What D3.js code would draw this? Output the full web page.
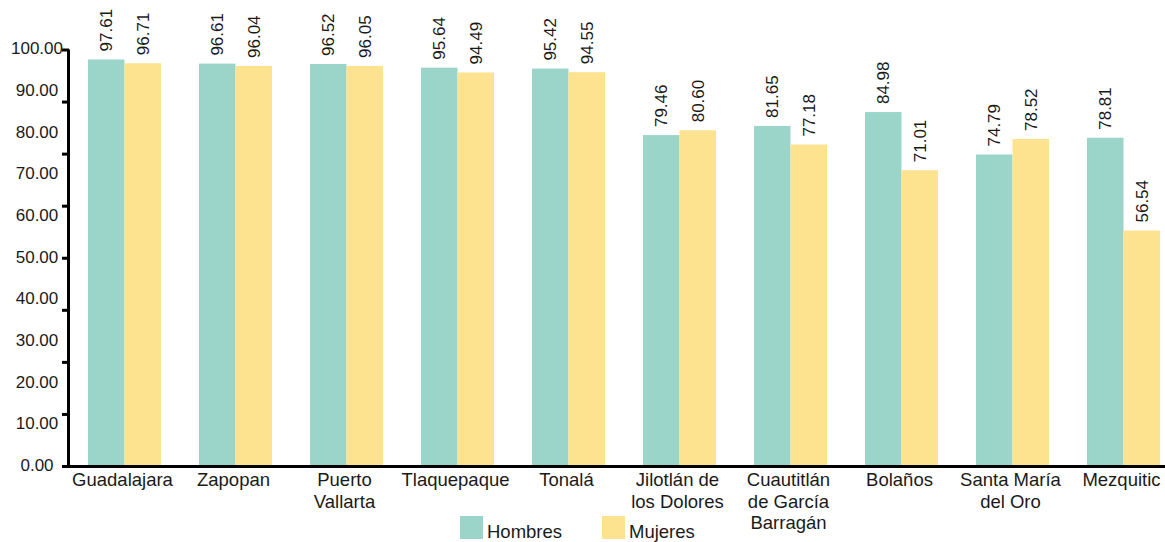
<!DOCTYPE html>
<html>
<head>
<meta charset="utf-8">
<script src="https://cdn.jsdelivr.net/npm/d3@7"></script>
<style>
  html, body { margin: 0; padding: 0; background: #fff; }
  svg { display: block; font-family: "Liberation Sans", Arial, sans-serif; }
</style>
</head>
<body>
<svg id="chart" width="1165" height="542" xmlns="http://www.w3.org/2000/svg"></svg>
<script>
const categories = ["Guadalajara", "Zapopan", "Puerto Vallarta", "Tlaquepaque", "Tonalá",
  "Jilotlán de los Dolores", "Cuautitlán de García Barragán", "Bolaños", "Santa María del Oro", "Mezquitic"];
const categoryLines = [["Guadalajara"], ["Zapopan"], ["Puerto", "Vallarta"], ["Tlaquepaque"], ["Tonalá"],
  ["Jilotlán de", "los Dolores"], ["Cuautitlán", "de García", "Barragán"], ["Bolaños"], ["Santa María", "del Oro"], ["Mezquitic"]];
const seriesNames = ["Hombres", "Mujeres"];
const hombres = [97.61, 96.61, 96.52, 95.64, 95.42, 79.46, 81.65, 84.98, 74.79, 78.81];
const mujeres = [96.71, 96.04, 96.05, 94.49, 94.55, 80.60, 77.18, 71.01, 78.52, 56.54];
const yTickLabels = [0, 10, 20, 30, 40, 50, 60, 70, 80, 90, 100];
const yTickMarks = [0, 12.5, 25, 37.5, 50, 62.5, 75, 87.5, 100];
const colors = ["#9bd5ca", "#fde290"];

const svg = d3.select("#chart");
const y = d3.scaleLinear().domain([0, 100]).range([466, 49.5]);
const x0 = d3.scaleBand().domain(categories).range([69, 1179]).paddingInner(0.3423).paddingOuter(0.1712);
const x1 = d3.scaleBand().domain(seriesNames).range([0, x0.bandwidth()]);
const color = d3.scaleOrdinal().domain(seriesNames).range(colors);

const flat = [];
categories.forEach((c, i) => {
  flat.push({ cat: c, key: "Hombres", v: hombres[i] });
  flat.push({ cat: c, key: "Mujeres", v: mujeres[i] });
});

// bars
svg.append("g").selectAll("rect").data(flat).join("rect")
  .attr("x", d => x0(d.cat) + x1(d.key))
  .attr("y", d => y(d.v))
  .attr("width", x1.bandwidth())
  .attr("height", d => y(0) - y(d.v))
  .attr("fill", d => color(d.key));

// value labels, rotated to read bottom-to-top
const cx = d => x0(d.cat) + x1(d.key) + x1.bandwidth() / 2 + 6;
const cy = d => y(d.v) - 8;
svg.append("g").attr("class", "values").selectAll("text").data(flat).join("text")
  .attr("x", cx)
  .attr("y", cy)
  .attr("transform", d => "rotate(-90 " + cx(d) + " " + cy(d) + ")")
  .attr("text-anchor", "start")
  .attr("font-size", "17px")
  .attr("fill", "#1a1a1a")
  .text(d => d.v.toFixed(2));

// y axis
const yAxis = d3.axisLeft(y).tickValues(yTickMarks).tickSize(7).tickFormat("");
const ya = svg.append("g").attr("transform", "translate(69,0)").call(yAxis);
ya.select(".domain").remove();
ya.selectAll(".tick line").attr("stroke", "#000").attr("stroke-width", 3);
svg.append("line").attr("x1", 68.5).attr("x2", 68.5).attr("y1", y(100)).attr("y2", y(0) + 1)
  .attr("stroke", "#000").attr("stroke-width", 3);
svg.append("line").attr("x1", 62).attr("x2", 1165).attr("y1", y(0) + 0.5).attr("y2", y(0) + 0.5)
  .attr("stroke", "#000").attr("stroke-width", 3);

svg.append("g").selectAll("text").data(yTickLabels).join("text")
  .attr("x", 37)
  .attr("y", d => y(d) - 1)
  .attr("dy", "0.35em")
  .attr("text-anchor", "middle")
  .attr("font-size", "17px")
  .attr("fill", "#1a1a1a")
  .text(d => d.toFixed(2));

// x labels
const xl = svg.append("g").selectAll("text").data(categories).join("text")
  .attr("x", d => x0(d) + x0.bandwidth() / 2 - 2)
  .attr("y", 486)
  .attr("text-anchor", "middle")
  .attr("font-size", "18.5px")
  .attr("fill", "#1a1a1a");
xl.selectAll("tspan").data((d, i) => categoryLines[i]).join("tspan")
  .attr("x", function () { return d3.select(this.parentNode).attr("x"); })
  .attr("dy", (d, i) => i === 0 ? 0 : 21.5)
  .text(d => d);

// legend
const legendX = [460, 602];
const lg = svg.append("g").selectAll("g").data(seriesNames).join("g")
  .attr("transform", (d, i) => `translate(${legendX[i]},516)`);
lg.append("rect").attr("width", 23).attr("height", 23).attr("fill", d => color(d));
lg.append("text").attr("x", 27).attr("y", 22).attr("font-size", "18.5px").attr("fill", "#1a1a1a").text(d => d);
</script>
</body>
</html>
